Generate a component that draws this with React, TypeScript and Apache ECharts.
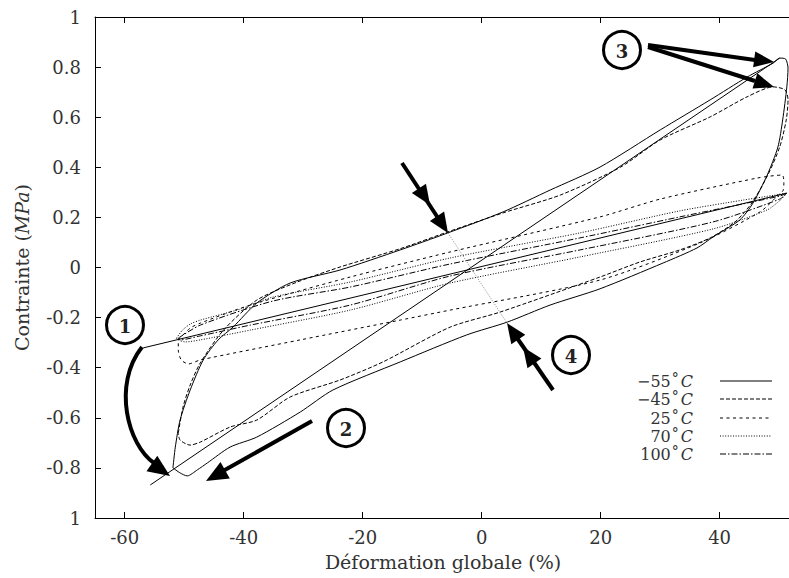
import React, { useEffect, useRef } from "react";
import * as echarts from "echarts";

// ---------- data (strain %, stress MPa) ----------
const xTickValues = [-60, -40, -20, 0, 20, 40];
const seriesNames = ["−55°C", "−45°C", "25°C", "70°C", "100°C"];

const loopM55: number[][] = [
  [-51.9, -0.8], [-51.5, -0.717], [-50.7, -0.609], [-49.0, -0.489], [-46.8, -0.369],
  [-44.3, -0.289], [-41.8, -0.238], [-37.8, -0.142], [-32.2, -0.062], [-23.8, -0.01],
  [-13.7, 0.07], [-5.7, 0.138], [3.6, 0.222], [11.5, 0.309], [19.9, 0.401],
  [30.0, 0.549], [38.4, 0.669], [44.6, 0.76], [49.0, 0.816], [50.1, 0.836],
  [51.1, 0.832], [51.5, 0.796], [51.3, 0.721], [50.6, 0.589], [49.8, 0.481],
  [48.0, 0.369], [45.6, 0.257], [43.4, 0.19], [38.9, 0.122], [36.2, 0.078],
  [30.5, 0.018], [19.9, -0.085], [11.5, -0.15], [4.3, -0.218], [-2.5, -0.269],
  [-13.7, -0.377], [-25.0, -0.489], [-30.5, -0.577], [-37.8, -0.677], [-42.3, -0.717],
  [-46.1, -0.78], [-47.8, -0.808], [-49.5, -0.832], [-50.7, -0.82], [-51.9, -0.8],
];
const diagonalM55: number[][] = [[-55.7, -0.868], [50.1, 0.836]];
const chordM55: number[][] = [[-56.9, -0.321], [51.3, 0.297]];

const loopM45: number[][] = [
  [-51.0, -0.661], [-50.2, -0.557], [-49.0, -0.469], [-47.3, -0.381], [-43.4, -0.25],
  [-37.8, -0.13], [-31.0, -0.058], [-23.8, 0.002], [-13.7, 0.075], [-5.7, 0.142],
  [3.6, 0.218], [13.2, 0.289], [23.3, 0.4], [30.0, 0.509], [38.4, 0.601],
  [44.6, 0.681], [49.0, 0.721], [51.0, 0.709], [51.5, 0.669], [51.2, 0.589],
  [50.1, 0.481], [48.1, 0.369], [45.4, 0.257], [42.6, 0.182], [38.4, 0.118],
  [33.3, 0.07], [26.6, 0.022], [19.9, -0.038], [3.1, -0.178], [-5.3, -0.238],
  [-16.6, -0.377], [-23.8, -0.449], [-32.2, -0.517], [-37.8, -0.609], [-42.3, -0.637],
  [-47.3, -0.697], [-49.0, -0.709], [-50.7, -0.689], [-51.0, -0.661],
];

const loop25: number[][] = [
  [-51.0, -0.289], [-49.0, -0.242], [-47.3, -0.222], [-38.9, -0.15], [-22.1, -0.038],
  [-5.3, 0.062], [19.9, 0.202], [30.0, 0.273], [46.3, 0.357], [50.5, 0.369],
  [50.8, 0.341], [50.7, 0.309], [49.7, 0.285], [46.8, 0.222], [36.7, 0.098],
  [19.9, -0.05], [-5.3, -0.17], [-13.7, -0.21], [-30.5, -0.289], [-47.3, -0.369],
  [-49.3, -0.385], [-50.5, -0.369], [-51.0, -0.329], [-51.0, -0.289],
];

const loop70: number[][] = [
  [-51.3, -0.282], [-50.3, -0.25], [-49.0, -0.226], [-47.3, -0.21], [-40.6, -0.166],
  [-35.1, -0.118], [-22.1, -0.058], [-5.3, 0.038], [16.5, 0.138], [33.3, 0.226],
  [43.9, 0.269], [49.3, 0.289], [51.3, 0.297], [50.2, 0.269], [48.0, 0.23],
  [38.9, 0.154], [16.5, 0.042], [-5.3, -0.062], [-22.1, -0.17], [-38.9, -0.25],
  [-47.3, -0.289], [-49.8, -0.297], [-51.0, -0.289], [-51.3, -0.282],
];

const loop100: number[][] = [
  [-51.0, -0.282], [-47.3, -0.23], [-35.1, -0.134], [-22.1, -0.078], [-5.3, 0.014],
  [16.5, 0.118], [33.3, 0.202], [50.1, 0.285], [51.3, 0.297], [50.1, 0.273],
  [38.9, 0.182], [16.5, 0.07], [-5.3, -0.034], [-22.1, -0.15], [-38.9, -0.23],
  [-47.3, -0.273], [-50.7, -0.289], [-51.0, -0.282],
];

// ---------- styles ----------
const FONT = '"DejaVu Serif", serif';
const TXT = "#333";
const dashes: (string | number[])[] = ["solid", [4, 2], [3, 3.5], [1, 1.6], [6, 2, 1.5, 2]];

function lineSeries(name: string, data: number[][], dashIdx: number, smooth = 0.25) {
  return {
    type: "line",
    name,
    data,
    symbol: "none",
    smooth,
    silent: true,
    lineStyle: { color: "#000", width: 1, type: dashes[dashIdx] },
    z: 2,
  };
}

function head(tip: number[], from: number[], len: number, hw: number) {
  const dx = tip[0] - from[0];
  const dy = tip[1] - from[1];
  const d = Math.hypot(dx, dy);
  const ux = dx / d, uy = dy / d;
  const bx = tip[0] - ux * len, by = tip[1] - uy * len;
  return {
    type: "polygon",
    z: 100,
    shape: { points: [tip, [bx - uy * hw, by + ux * hw], [bx + uy * hw, by - ux * hw]] },
    style: { fill: "#000" },
  };
}
function shaft(a: number[], b: number[], w = 4) {
  return {
    type: "line",
    z: 100,
    shape: { x1: a[0], y1: a[1], x2: b[0], y2: b[1] },
    style: { stroke: "#000", lineWidth: w },
  };
}
function circled(cx: number, cy: number, label: string) {
  return [
    { type: "circle", z: 100, shape: { cx, cy, r: 18.5 }, style: { fill: "none", stroke: "#000", lineWidth: 3 } },
    {
      type: "text", z: 101, x: cx, y: cy + 1,
      style: { text: label, fill: "#222", font: `bold 18px ${FONT}`, align: "center", verticalAlign: "middle" },
    },
  ];
}

function buildGraphics() {
  const g: any[] = [];
  g.push(...circled(125, 325, "1"));
  g.push(...circled(346, 428, "2"));
  g.push(...circled(622, 50, "3"));
  g.push(...circled(571, 355, "4"));
  // arrow 1 (curved)
  g.push({
    type: "bezierCurve", z: 100,
    shape: { x1: 142, y1: 347, cpx1: 112, cpy1: 385, cpx2: 128, cpy2: 445, x2: 154, y2: 463 },
    style: { stroke: "#000", lineWidth: 4, fill: "none" },
  });
  g.push(head([170, 476], [128, 447], 22, 9.5));
  // arrow 2
  g.push(shaft([312, 421], [223, 471]));
  g.push(head([206, 481], [312, 421], 22, 9.5));
  // arrows 3
  g.push(shaft([648, 45], [755, 60]));
  g.push(head([774, 62], [648, 45], 20, 8));
  g.push(shaft([648, 47], [755, 81]));
  g.push(head([774, 87], [648, 47], 20, 8));
  // arrow top (double head) + guide
  g.push({ type: "line", z: 99, shape: { x1: 448, y1: 233, x2: 507, y2: 323 }, style: { stroke: "#888", lineWidth: 1, lineDash: [1, 1.5] } });
  g.push(shaft([402, 163], [440, 221]));
  g.push(head([430, 205], [402, 163], 20, 8.5));
  g.push(head([448, 233], [402, 163], 20, 8.5));
  // arrow 4 (double head)
  g.push(shaft([553, 390], [515, 335]));
  g.push(head([523, 347], [553, 390], 20, 8.5));
  g.push(head([507, 323], [553, 390], 20, 8.5));

  // legend
  const rows = [381, 399, 418, 436, 454];
  const parts = ["−55", "−45", "25", "70", "100"];
  rows.forEach((y, i) => {
    g.push({
      type: "text", z: 101, x: 693, y,
      style: {
        text: `{n|${parts[i]}}{d|°}{c|C}`,
        align: "right", verticalAlign: "middle",
        rich: {
          n: { fontFamily: FONT, fontSize: 16, fill: TXT, color: TXT },
          d: { fontFamily: FONT, fontSize: 14, fill: TXT, color: TXT, verticalAlign: "top", padding: [0, 2, 6, 1] },
          c: { fontFamily: FONT, fontSize: 16, fontStyle: "italic", fill: TXT, color: TXT },
        },
      },
    });
    const dash = dashes[i];
    g.push({
      type: "line", z: 101,
      shape: { x1: 720, y1: y, x2: 772, y2: y },
      style: { stroke: "#000", lineWidth: 1, lineDash: dash === "solid" ? null : dash },
    });
  });
  return g;
}

export default function App() {
  const ref = useRef<HTMLDivElement>(null);
  useEffect(() => {
    document.body.style.margin = "0";
    const chart = echarts.init(ref.current!, undefined, { renderer: "svg" });
    const axisLabelBase = { color: TXT, fontFamily: FONT, fontSize: 18 };
    chart.setOption({
      animation: false,
      backgroundColor: "#fff",
      grid: { left: 95, top: 17, width: 696, height: 501, outerBoundsMode: "none", containLabel: false },
      xAxis: [
        {
          type: "value", min: -65, max: 52, position: "bottom",
          name: "Déformation globale (%)", nameLocation: "middle", nameGap: 34,
          nameTextStyle: { color: TXT, fontFamily: FONT, fontSize: 19 },
          axisLine: { show: true, onZero: false, lineStyle: { color: "#000", width: 1 } },
          axisTick: { show: true, inside: true, length: 6, customValues: xTickValues, lineStyle: { color: "#000" } },
          axisLabel: { ...axisLabelBase, margin: 10, customValues: xTickValues, formatter: (v: number) => String(v) },
          splitLine: { show: false },
        },
        {
          type: "value", min: -65, max: 52, position: "top",
          axisLine: { show: true, onZero: false, lineStyle: { color: "#000", width: 1 } },
          axisTick: { show: true, inside: true, length: 6, customValues: xTickValues, lineStyle: { color: "#000" } },
          axisLabel: { show: false },
          splitLine: { show: false },
        },
      ],
      yAxis: {
        type: "value", min: -1, max: 1, interval: 0.2,
        name: "Contrainte ({i|MPa})", nameLocation: "middle", nameGap: 64, nameRotate: 90,
        nameTextStyle: {
          color: TXT, fontFamily: FONT, fontSize: 19,
          rich: { i: { color: TXT, fontFamily: FONT, fontSize: 19, fontStyle: "italic" } },
        },
        axisLine: { show: true, onZero: false, lineStyle: { color: "#000", width: 1 } },
        axisTick: { show: true, inside: true, length: 6, lineStyle: { color: "#000" } },
        axisLabel: {
          ...axisLabelBase, margin: 14,
          formatter: (v: number) => (Math.abs(v + 1) < 1e-9 ? "1" : String(Math.round(v * 10) / 10)),
        },
        splitLine: { show: false },
      },
      series: [
        lineSeries(seriesNames[0], loopM55, 0),
        lineSeries(seriesNames[0], diagonalM55, 0, 0),
        lineSeries(seriesNames[0], chordM55, 0, 0),
        lineSeries(seriesNames[1], loopM45, 1),
        lineSeries(seriesNames[2], loop25, 2),
        lineSeries(seriesNames[3], loop70, 3),
        lineSeries(seriesNames[4], loop100, 4),
      ],
      graphic: buildGraphics(),
    });
    return () => chart.dispose();
  }, []);
  return <div ref={ref} style={{ position: "absolute", left: 0, top: 0, width: 789, height: 578 }} />;
}
